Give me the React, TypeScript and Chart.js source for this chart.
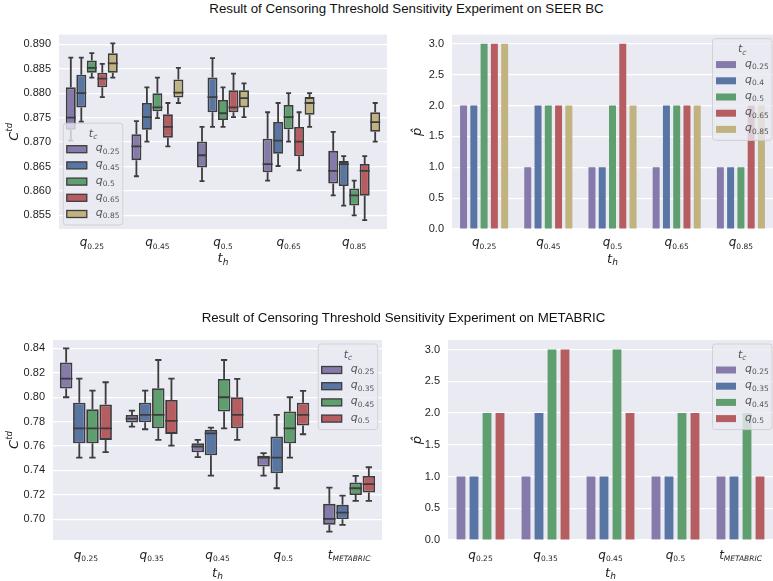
import React, { useEffect, useRef } from 'react';
import { Chart, registerables } from 'chart.js';
Chart.register(...registerables);

// ---------------- categories / hues ----------------
const SEER_TH = ['q_0.25', 'q_0.45', 'q_0.5', 'q_0.65', 'q_0.85'];
const SEER_BOX_TC = ['q_0.25', 'q_0.45', 'q_0.5', 'q_0.65', 'q_0.85'];
const SEER_BAR_TC = ['q_0.25', 'q_0.4', 'q_0.5', 'q_0.65', 'q_0.85'];
const MB_TH = ['q_0.25', 'q_0.35', 'q_0.45', 'q_0.5', 't_METABRIC'];
const MB_TC = ['q_0.25', 'q_0.35', 'q_0.45', 'q_0.5'];

// ---------------- SEER BC box stats: [whiskerLow, q1, median, q3, whiskerHigh] per t_h ----------------
const SEER_BOX_Q025 = [
  [0.8703, 0.8725, 0.875, 0.8812, 0.8873],
  [0.863, 0.8663, 0.8691, 0.8716, 0.8743],
  [0.862, 0.8648, 0.8673, 0.8701, 0.8731],
  [0.8621, 0.8638, 0.8655, 0.8707, 0.8761],
  [0.8591, 0.8615, 0.8641, 0.8682, 0.8721],
];
const SEER_BOX_Q045 = [
  [0.8742, 0.8771, 0.88, 0.8838, 0.8873],
  [0.8701, 0.8725, 0.8751, 0.878, 0.8812],
  [0.8731, 0.8761, 0.8792, 0.8832, 0.8872],
  [0.8651, 0.8676, 0.8703, 0.8741, 0.878],
  [0.857, 0.861, 0.8655, 0.8661, 0.8671],
];
const SEER_BOX_Q05 = [
  [0.8832, 0.8842, 0.8852, 0.8867, 0.8882],
  [0.8749, 0.8763, 0.8771, 0.88, 0.8832],
  [0.8731, 0.8745, 0.8759, 0.8786, 0.8812],
  [0.8701, 0.8726, 0.8751, 0.8776, 0.88],
  [0.855, 0.857, 0.8591, 0.8605, 0.8621],
];
const SEER_BOX_Q065 = [
  [0.8792, 0.8812, 0.883, 0.8842, 0.886],
  [0.8691, 0.8709, 0.8731, 0.8757, 0.878],
  [0.8751, 0.8761, 0.8771, 0.8806, 0.884],
  [0.8642, 0.8671, 0.8701, 0.8731, 0.8761],
  [0.854, 0.859, 0.8641, 0.8655, 0.8671],
];
const SEER_BOX_Q085 = [
  [0.8832, 0.8842, 0.8861, 0.8882, 0.8902],
  [0.878, 0.8791, 0.8801, 0.8828, 0.8852],
  [0.8751, 0.8771, 0.879, 0.8806, 0.882],
  [0.8731, 0.8756, 0.878, 0.8792, 0.88],
  [0.8701, 0.8721, 0.8741, 0.8761, 0.878],
];

// ---------------- METABRIC box stats ----------------
const MB_BOX_Q025 = [
  [0.7999, 0.807, 0.8152, 0.8283, 0.84],
  [0.7759, 0.7792, 0.7824, 0.7854, 0.789],
  [0.7508, 0.7549, 0.7595, 0.7622, 0.765],
  [0.7358, 0.7431, 0.7505, 0.7521, 0.7541],
  [0.6899, 0.6954, 0.7003, 0.7126, 0.7259],
];
const MB_BOX_Q035 = [
  [0.7505, 0.7622, 0.7745, 0.7955, 0.8152],
  [0.7737, 0.7794, 0.7854, 0.7955, 0.8053],
  [0.7358, 0.7524, 0.7704, 0.7732, 0.7751],
  [0.7254, 0.7377, 0.7505, 0.7677, 0.7854],
  [0.6954, 0.7, 0.7055, 0.7118, 0.7194],
];
const MB_BOX_Q045 = [
  [0.7505, 0.7622, 0.7745, 0.7901, 0.8053],
  [0.765, 0.7745, 0.7854, 0.8073, 0.8304],
  [0.7745, 0.7882, 0.7999, 0.8149, 0.8304],
  [0.7505, 0.7622, 0.7745, 0.7882, 0.7999],
  [0.715, 0.7199, 0.7254, 0.73, 0.7355],
];
const MB_BOX_Q05 = [
  [0.7549, 0.765, 0.7745, 0.7939, 0.8122],
  [0.7603, 0.7699, 0.7805, 0.7977, 0.8152],
  [0.765, 0.7745, 0.7854, 0.7999, 0.8149],
  [0.7696, 0.7767, 0.7854, 0.7955, 0.8051],
  [0.715, 0.7219, 0.7287, 0.7355, 0.7426],
];

// ---------------- p-hat bar values (per t_c hue, across t_h) ----------------
const SEER_P_Q025 = [2, 1, 1, 1, 1];
const SEER_P_Q04 = [2, 2, 1, 2, 1];
const SEER_P_Q05 = [3, 2, 2, 2, 1];
const SEER_P_Q065 = [3, 2, 3, 2, 2];
const SEER_P_Q085 = [3, 2, 2, 2, 2];

const MB_P_Q025 = [1, 1, 1, 1, 1];
const MB_P_Q035 = [1, 2, 1, 1, 1];
const MB_P_Q045 = [2, 3, 3, 2, 2];
const MB_P_Q05 = [2, 3, 2, 2, 1];

// ---------------- tick labels ----------------
const SEER_Y_TICKS = [0.855, 0.86, 0.865, 0.87, 0.875, 0.88, 0.885, 0.89];
const MB_Y_TICKS = [0.7, 0.72, 0.74, 0.76, 0.78, 0.8, 0.82, 0.84];
const P_TICKS = [0, 0.5, 1, 1.5, 2, 2.5, 3];

// ---------------- styles ----------------
const COLORS = ['#857AAA', '#5875A4', '#5F9E6E', '#B55D60', '#C1B37F'];
const EDGE = '#3c3c3c';
const SANS = '"Liberation Sans", Arial, sans-serif';
const MATH = '"DejaVu Sans", sans-serif';

type Panel = {
  kind: 'box' | 'bar';
  cats: string[];
  hues: string[];
  stats?: number[][][];
  bars?: number[][];
  yMin: number;
  yMax: number;
  yTicks: number[];
  dec: number;
  yWidth: number;
  xHeight: number;
  pad: { left: number; right: number; top: number; bottom: number };
  legend: { corner: 'll' | 'ur'; dx: number; dy: number };
  tickDy: number;
  titleDy: number;
  yTitle: 'C' | 'p';
  yTitleX: number;
};

function drawSub(ctx: CanvasRenderingContext2D, label: string, x: number, y: number, baseSize: number, subSize: number, align: 'center' | 'left') {
  const idx = label.indexOf('_');
  const base = idx >= 0 ? label.slice(0, idx) : label;
  const sub = idx >= 0 ? label.slice(idx + 1) : '';
  const baseFont = `italic ${baseSize}px ${MATH}`;
  const subFont = `${/[A-Za-z]/.test(sub) ? 'italic ' : ''}${subSize}px ${MATH}`;
  ctx.font = baseFont;
  const wb = ctx.measureText(base).width;
  ctx.font = subFont;
  const ws = sub ? ctx.measureText(sub).width : 0;
  const x0 = align === 'center' ? x - (wb + ws) / 2 : x;
  ctx.textAlign = 'left';
  ctx.textBaseline = 'alphabetic';
  ctx.font = baseFont;
  ctx.fillText(base, x0, y);
  if (sub) {
    ctx.font = subFont;
    ctx.fillText(sub, x0 + wb, y + baseSize * 0.22);
  }
}

function decoPlugin(p: Panel) {
  return {
    id: 'deco',
    beforeDraw(chart: any) {
      const { ctx, chartArea: a } = chart;
      ctx.save();
      ctx.fillStyle = '#EAEAF2';
      ctx.fillRect(a.left, a.top, a.right - a.left, a.bottom - a.top);
      ctx.restore();
    },
    afterDatasetsDraw(chart: any) {
      if (p.kind !== 'box' || !p.stats) return;
      const ctx = chart.ctx;
      const ys = chart.scales.y;
      ctx.save();
      ctx.strokeStyle = EDGE;
      ctx.lineWidth = 1.8;
      p.stats.forEach((hs, i) => {
        const meta = chart.getDatasetMeta(i);
        hs.forEach((s, j) => {
          const el = meta.data[j];
          if (!el) return;
          const x = el.x;
          const w = el.width;
          const [lo, q1, med, q3, hi] = s.map((v) => ys.getPixelForValue(v));
          ctx.beginPath();
          ctx.moveTo(x, q3); ctx.lineTo(x, hi);
          ctx.moveTo(x - w / 4, hi); ctx.lineTo(x + w / 4, hi);
          ctx.moveTo(x, q1); ctx.lineTo(x, lo);
          ctx.moveTo(x - w / 4, lo); ctx.lineTo(x + w / 4, lo);
          ctx.moveTo(x - w / 2, med); ctx.lineTo(x + w / 2, med);
          ctx.stroke();
        });
      });
      ctx.restore();
    },
    afterDraw(chart: any) {
      const ctx: CanvasRenderingContext2D = chart.ctx;
      const a = chart.chartArea;
      const xs = chart.scales.x;
      ctx.save();
      // x tick labels
      ctx.fillStyle = '#1e1e1e';
      p.cats.forEach((c, i) => drawSub(ctx, c, xs.getPixelForValue(i), a.bottom + p.tickDy, 12, 7.5, 'center'));
      // x title
      drawSub(ctx, 't_h', (a.left + a.right) / 2, a.bottom + p.titleDy, 13, 9, 'center');
      // y title
      ctx.save();
      ctx.translate(p.yTitleX, (a.top + a.bottom) / 2);
      ctx.rotate(-Math.PI / 2);
      ctx.textBaseline = 'alphabetic';
      ctx.textAlign = 'left';
      if (p.yTitle === 'C') {
        ctx.font = `italic 13px ${MATH}`;
        const wc = ctx.measureText('C').width;
        ctx.font = `italic 8.5px ${MATH}`;
        const wt = ctx.measureText('td').width;
        const x0 = -(wc + wt) / 2;
        ctx.font = `italic 13px ${MATH}`;
        ctx.fillText('C', x0, 4.5);
        ctx.font = `italic 8.5px ${MATH}`;
        ctx.fillText('td', x0 + wc, -1.5);
      } else {
        ctx.font = `italic 13px ${MATH}`;
        ctx.textAlign = 'center';
        ctx.fillText('p\u0302', 0, 4);
      }
      ctx.restore();
      // legend
      const n = p.hues.length;
      const w = 59.5;
      const h = 37 + (n - 1) * 16.2;
      let lx: number, ly: number;
      if (p.legend.corner === 'll') {
        lx = a.left + p.legend.dx;
        ly = a.bottom - p.legend.dy - h;
      } else {
        lx = a.right - p.legend.dx - w;
        ly = a.top + p.legend.dy;
      }
      const r = 3;
      ctx.beginPath();
      ctx.moveTo(lx + r, ly);
      ctx.lineTo(lx + w - r, ly);
      ctx.quadraticCurveTo(lx + w, ly, lx + w, ly + r);
      ctx.lineTo(lx + w, ly + h - r);
      ctx.quadraticCurveTo(lx + w, ly + h, lx + w - r, ly + h);
      ctx.lineTo(lx + r, ly + h);
      ctx.quadraticCurveTo(lx, ly + h, lx, ly + h - r);
      ctx.lineTo(lx, ly + r);
      ctx.quadraticCurveTo(lx, ly, lx + r, ly);
      ctx.closePath();
      ctx.fillStyle = 'rgba(234,234,242,0.8)';
      ctx.fill();
      ctx.strokeStyle = 'rgba(204,204,204,0.8)';
      ctx.lineWidth = 1;
      ctx.stroke();
      ctx.fillStyle = '#555';
      drawSub(ctx, 't_c', lx + w / 2, ly + 13.5, 11, 7.5, 'center');
      p.hues.forEach((hue, i) => {
        const ry = ly + 26 + i * 16.2;
        ctx.fillStyle = COLORS[i];
        ctx.fillRect(lx + 3.5, ry - 3.5, 20, 7);
        if (p.kind === 'box') {
          ctx.strokeStyle = EDGE;
          ctx.lineWidth = 1.3;
          ctx.strokeRect(lx + 3.5, ry - 3.5, 20, 7);
        }
        ctx.fillStyle = '#555';
        drawSub(ctx, hue, lx + 32.5, ry + 2, 11, 7.5, 'left');
      });
      ctx.restore();
    },
  };
}

function makeConfig(p: Panel): any {
  const datasets = p.hues.map((h, i) =>
    p.kind === 'box'
      ? {
          label: h,
          data: p.stats![i].map((s) => [s[1], s[3]]),
          backgroundColor: COLORS[i],
          borderColor: EDGE,
          borderWidth: 1.8,
          borderSkipped: false,
          categoryPercentage: 0.8,
          barPercentage: 0.95,
        }
      : {
          label: h,
          data: p.bars![i],
          backgroundColor: COLORS[i],
          borderWidth: 0,
          categoryPercentage: 0.8,
          barPercentage: 0.68,
        }
  );
  return {
    type: 'bar',
    data: { labels: p.cats, datasets },
    options: {
      responsive: false,
      animation: false,
      layout: { padding: p.pad },
      plugins: { legend: { display: false }, tooltip: { enabled: false }, title: { display: false } },
      scales: {
        x: {
          grid: { display: false },
          border: { display: false },
          ticks: { display: false },
          afterFit: (s: any) => { s.height = p.xHeight; },
        },
        y: {
          min: p.yMin,
          max: p.yMax,
          grid: { color: '#ffffff', lineWidth: 1.2, drawTicks: false },
          border: { display: false },
          afterBuildTicks: (s: any) => { s.ticks = p.yTicks.map((v) => ({ value: v })); },
          afterFit: (s: any) => { s.width = p.yWidth; },
          ticks: {
            padding: 8,
            color: '#1e1e1e',
            font: { family: SANS, size: 11 },
            callback: (v: any) => Number(v).toFixed(p.dec),
          },
        },
      },
    },
    plugins: [decoPlugin(p)],
  };
}

const PANELS: Panel[] = [
  {
    kind: 'box', cats: SEER_TH, hues: SEER_BOX_TC,
    stats: [SEER_BOX_Q025, SEER_BOX_Q045, SEER_BOX_Q05, SEER_BOX_Q065, SEER_BOX_Q085],
    yMin: 0.8522, yMax: 0.892, yTicks: SEER_Y_TICKS, dec: 3,
    yWidth: 59, xHeight: 61, pad: { left: 0, right: 3, top: 10, bottom: 0 },
    legend: { corner: 'll', dx: 4.3, dy: 4 }, tickDy: 17, titleDy: 33, yTitle: 'C', yTitleX: 13,
  },
  {
    kind: 'bar', cats: SEER_TH, hues: SEER_BAR_TC,
    bars: [SEER_P_Q025, SEER_P_Q04, SEER_P_Q05, SEER_P_Q065, SEER_P_Q085],
    yMin: 0, yMax: 3.15, yTicks: P_TICKS, dec: 1,
    yWidth: 62, xHeight: 61, pad: { left: 0, right: 0, top: 10, bottom: 0 },
    legend: { corner: 'ur', dx: 1, dy: 4 }, tickDy: 17, titleDy: 33.5, yTitle: 'p', yTitleX: 27,
  },
  {
    kind: 'box', cats: MB_TH, hues: MB_TC,
    stats: [MB_BOX_Q025, MB_BOX_Q035, MB_BOX_Q045, MB_BOX_Q05],
    yMin: 0.683, yMax: 0.8468, yTicks: MB_Y_TICKS, dec: 2,
    yWidth: 53, xHeight: 41, pad: { left: 0, right: 8, top: 40, bottom: 0 },
    legend: { corner: 'ur', dx: 4.3, dy: 4 }, tickDy: 18.6, titleDy: 36.5, yTitle: 'C', yTitleX: 13,
  },
  {
    kind: 'bar', cats: MB_TH, hues: MB_TC,
    bars: [MB_P_Q025, MB_P_Q035, MB_P_Q045, MB_P_Q05],
    yMin: 0, yMax: 3.15, yTicks: P_TICKS, dec: 1,
    yWidth: 58, xHeight: 41, pad: { left: 0, right: 0, top: 40, bottom: 0 },
    legend: { corner: 'ur', dx: 1, dy: 4 }, tickDy: 18.6, titleDy: 36.5, yTitle: 'p', yTitleX: 27,
  },
];

const RECTS = [
  { left: 0, top: 20, width: 390, height: 270 },
  { left: 390, top: 20, width: 383, height: 270 },
  { left: 0, top: 300, width: 390, height: 281 },
  { left: 390, top: 300, width: 383, height: 281 },
];

export default function App() {
  const refs = [useRef<HTMLCanvasElement>(null), useRef<HTMLCanvasElement>(null), useRef<HTMLCanvasElement>(null), useRef<HTMLCanvasElement>(null)];
  useEffect(() => {
    const charts = PANELS.map((p, i) => new Chart(refs[i].current as HTMLCanvasElement, makeConfig(p)));
    return () => charts.forEach((c) => c.destroy());
  }, []);
  const titleStyle = (cx: number, top: number): React.CSSProperties => ({
    position: 'absolute', left: cx, top, transform: 'translateX(-50%)', whiteSpace: 'nowrap',
    fontFamily: SANS, fontSize: 13.3, lineHeight: '16px', color: '#111',
  });
  return (
    <div style={{ position: 'fixed', left: 0, top: 0, width: 773, height: 581, background: '#fff', overflow: 'hidden' }}>
      {RECTS.map((r, i) => (
        <canvas key={i} ref={refs[i]} width={r.width} height={r.height}
          style={{ position: 'absolute', left: r.left, top: r.top, width: r.width, height: r.height }} />
      ))}
      <div style={titleStyle(406.5, 1)}>Result of Censoring Threshold Sensitivity Experiment on SEER BC</div>
      <div style={titleStyle(403.5, 310)}>Result of Censoring Threshold Sensitivity Experiment on METABRIC</div>
    </div>
  );
}
